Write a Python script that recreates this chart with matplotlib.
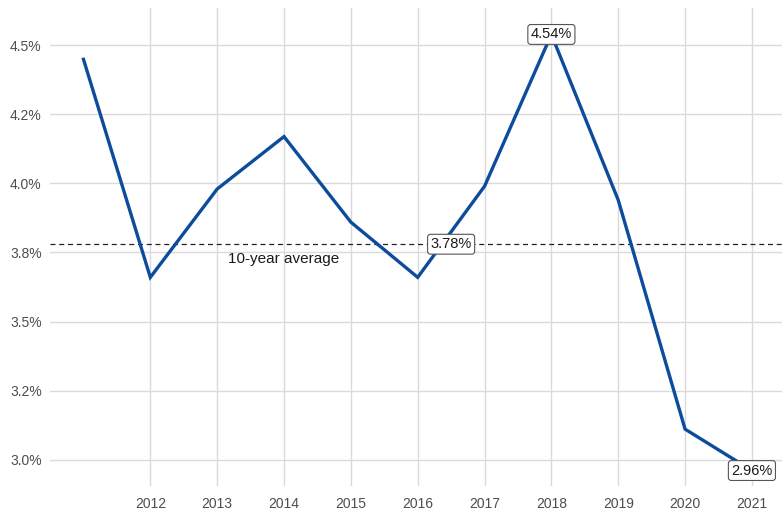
import matplotlib.pyplot as plt
from matplotlib.ticker import FuncFormatter

plt.rcParams["font.family"] = ["Liberation Sans", "DejaVu Sans"]

years = [2011, 2012, 2013, 2014, 2015, 2016, 2017, 2018, 2019, 2020, 2021]
rates = [4.45, 3.66, 3.98, 4.17, 3.86, 3.66, 3.99, 4.54, 3.94, 3.11, 2.96]
avg_rate = 3.78
y_ticks = [3.0, 3.25, 3.5, 3.75, 4.0, 4.25, 4.5]
x_ticks = years[1:]

LINE = "#0D4C9C"
GRID = "#DADADA"
TICK = "#4D4D4D"

fig = plt.figure(figsize=(7.82, 5.14), dpi=100)
ax = fig.add_axes([0.064, 0.055, 0.936, 0.929])

ax.plot(years, rates, color=LINE, lw=2.4, solid_joinstyle="miter", zorder=3)
ax.axhline(avg_rate, color="#222222", lw=0.9, ls=(0, (4, 3)), zorder=2)

box = dict(boxstyle="round,pad=0.2,rounding_size=0.2", fc="white",
           ec="#555555", lw=0.8)
ax.text(2016.5, avg_rate, f"{avg_rate:.2f}%", ha="center", va="center",
        fontsize=10.5, color="#1A1A1A", bbox=box, zorder=5)
ax.text(2014, avg_rate - 0.055, "10-year average", ha="center", va="center",
        fontsize=11, color="#1A1A1A", zorder=5)

for i in (years.index(2018), years.index(2021)):
    ax.text(years[i], rates[i], f"{rates[i]:.2f}%", ha="center", va="center",
            fontsize=10.5, color="#1A1A1A", bbox=box, zorder=5)

ax.set_xlim(2010.5, 2021.45)
ax.set_ylim(2.905, 4.635)
ax.set_xticks(x_ticks)
ax.set_yticks(y_ticks)
ax.yaxis.set_major_formatter(FuncFormatter(lambda v, _: f"{v:.1f}%"))

ax.grid(True, color=GRID, lw=1.0)
ax.set_axisbelow(True)
for s in ax.spines.values():
    s.set_visible(False)
ax.tick_params(length=0, labelsize=10, labelcolor=TICK, pad=6)
ax.tick_params(axis="x", pad=8)

fig.savefig("out.png", dpi=100)
